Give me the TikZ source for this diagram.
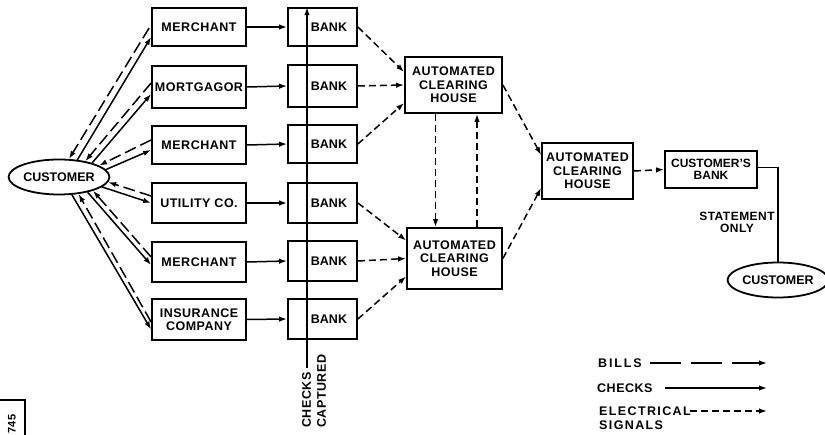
\documentclass[tikz,border=0pt]{standalone}
\usepackage{fontspec}
\setmainfont{Liberation Sans}
\newfontfamily\lbl{Liberation Sans}[LetterSpace=4]
\newfontfamily\lblw{Liberation Sans}[LetterSpace=11]
\newfontfamily\lblww{Liberation Sans}[LetterSpace=15]
\usetikzlibrary{arrows.meta,shapes.geometric,calc}
\begin{document}
\begin{tikzpicture}[x=1pt,y=-1pt,
  every node/.style={font=\lbl\bfseries\fontsize{12.5}{13.5}\selectfont},
  box/.style={draw,line width=1.8pt,rectangle,inner sep=1pt,align=center},
  oval/.style={draw,ellipse,line width=1.8pt,inner sep=0pt,minimum width=94pt,minimum height=35pt,font=\bfseries\fontsize{12.5}{13}\selectfont},
  con/.style={line width=1.5pt},
  tip/.style={-{Latex[length=8pt,width=5.5pt]}},
  bill/.style={con,tip,dash pattern=on 12pt off 5pt},
  chk/.style={con,tip},
  sig/.style={con,tip,dash pattern=on 7pt off 4pt},
  bank/.style={box,minimum width=69pt,font=\bfseries\fontsize{12.5}{13.5}\selectfont},
]
\useasboundingbox (0,0) rectangle (825,435);

% customers
\node[oval] (cust) at (59,177) {CUSTOMER};
\node[oval,minimum width=89pt] (cust2) at (778,280) {CUSTOMER};

% payees
\node[box,minimum width=94pt,minimum height=38pt] (m1) at (199,27) {MERCHANT};
\node[box,minimum width=94pt,minimum height=42pt] (m2) at (199,87) {MORTGAGOR};
\node[box,minimum width=94pt,minimum height=38pt] (m3) at (199,145) {MERCHANT};
\node[box,minimum width=94pt,minimum height=40pt] (u)  at (199,203) {UTILITY CO.};
\node[box,minimum width=94pt,minimum height=40pt] (m5) at (199,262) {MERCHANT};
\node[box,minimum width=94pt,minimum height=41pt] (ins) at (199,319.5) {INSURANCE\\COMPANY};

% banks
\node[bank,minimum height=38pt] (b1) at (322.5,27) {\hspace*{13pt}BANK};
\node[bank,minimum height=42pt] (b2) at (322.5,86) {\hspace*{13pt}BANK};
\node[bank,minimum height=38pt] (b3) at (322.5,144) {\hspace*{13pt}BANK};
\node[bank,minimum height=40pt] (b4) at (322.5,203) {\hspace*{13pt}BANK};
\node[bank,minimum height=40pt] (b5) at (322.5,261) {\hspace*{13pt}BANK};
\node[bank,minimum height=40pt] (b6) at (322.5,319) {\hspace*{13pt}BANK};

% clearing houses
\node[box,minimum width=97pt,minimum height=56pt] (ach1) at (453.5,85) {AUTOMATED\\CLEARING\\HOUSE};
\node[box,minimum width=95pt,minimum height=61pt] (ach2) at (454.5,258.5) {AUTOMATED\\CLEARING\\HOUSE};
\node[box,minimum width=91pt,minimum height=56pt] (ach3) at (587.5,171) {AUTOMATED\\CLEARING\\HOUSE};
\node[box,minimum width=92pt,minimum height=37pt,font=\bfseries\fontsize{12}{12.5}\selectfont] (cb) at (711,169.5) {CUSTOMER'S\\BANK};

% customer <-> payees
\draw[bill] ($(m1.west)+(-2,1)$) -- (cust.61);
\draw[chk] (cust.43) -- ($(m1.west)+(0,10)$);
\draw[bill] ($(m2.west)+(0,-4)$) -- (cust.31);
\draw[chk] (cust.23) -- ($(m2.west)+(0,7)$);
\draw[bill] ($(m3.west)+(0,-5)$) -- (cust.16);
\draw[chk] (cust.9) -- ($(m3.west)+(0,5)$);
\draw[bill] ($(u.west)+(0,-7)$) -- (cust.-6);
\draw[chk] (cust.-13) -- ($(u.west)+(0,0)$);
\draw[bill] ($(m5.west)+(0,-5)$) -- (cust.-22);
\draw[chk] (cust.-28) -- ($(m5.west)+(0,3)$);
\draw[bill] ($(ins.west)+(0,2.5)$) -- (cust.-41);
\draw[chk] (cust.-54) -- ($(ins.west)+(0,10)$);

% payees -> banks
\draw[chk] (m1.east) -- (b1.west);
\draw[chk] (m2.east) -- (b2.west);
\draw[chk] (m3.east) -- (b3.west);
\draw[chk] (u.east) -- (b4.west);
\draw[chk] (m5.east) -- (b5.west);
\draw[chk] (ins.east) -- (b6.west);

% checks captured
\coordinate (cc) at (307,368);
\draw[chk] (cc) -- (cc |- b1.north);
\node[rotate=90,anchor=north west,align=left,inner sep=0pt,font=\lbl\bfseries\fontsize{12.5}{15}\selectfont] (capt) at (302,428) {CHECKS\\CAPTURED};

% banks -> ACH
\draw[sig] (b1.east) -- ($(ach1.west)+(0,-13)$);
\draw[sig] (b2.east) -- (ach1.west);
\draw[sig] (b3.east) -- ($(ach1.west)+(0,18)$);
\draw[sig] (b4.east) -- ($(ach2.west)+(0,-18)$);
\draw[sig] (b5.east) -- (ach2.west);
\draw[sig] (b6.east) -- ($(ach2.west)+(0,18)$);

% between ACHs
\coordinate (d1) at ($(ach1.south)+(-18,0)$);
\draw[sig] (d1) -- (d1 |- ach2.north);
\coordinate (u1) at ($(ach2.north)+(22.5,0)$);
\draw[sig] (u1) -- (u1 |- ach1.south);
\draw[sig] (ach1.east) -- ($(ach3.west)+(0,-16)$);
\draw[sig] (ach2.east) -- ($(ach3.west)+(0,17)$);
\draw[sig] (ach3.east) -- (cb.west);

% statement
\draw[con] ($(cb.east)+(0,-2)$) -| (cust2.north);
\node[align=center,font=\lbl\bfseries\fontsize{12}{12}\selectfont] (st) at (737,222) {STATEMENT\\ONLY};

% legend
\node[anchor=west,inner sep=0pt,font=\lblww\bfseries\fontsize{12.5}{13}\selectfont] (lb) at (598,363) {BILLS};
\coordinate (lbe) at (767,363);
\draw[con,tip,dash pattern=on 31pt off 10pt] ($(lb.east)+(8,0)$) -- (lbe);
\node[anchor=west,inner sep=0pt] (lc) at (597,388) {CHECKS};
\coordinate (lce) at (767,388);
\draw[chk] ($(lc.east)+(12,0)$) -- (lce);
\node[anchor=west,inner sep=0pt,align=left,font=\lblw\bfseries\fontsize{12.5}{14}\selectfont] (le) at (599,418) {ELECTRICAL\\SIGNALS};
\coordinate (les) at (690,411);
\coordinate (lee) at (767,411);
\draw[sig] (les) -- (lee);

% figure number
\draw[line width=1.2pt] (0,400) -- (25,400) -- (25,435);
\node[rotate=90,font=\bfseries\fontsize{11}{12}\selectfont] (num) at (12,424) {745};
\end{tikzpicture}
\end{document}
